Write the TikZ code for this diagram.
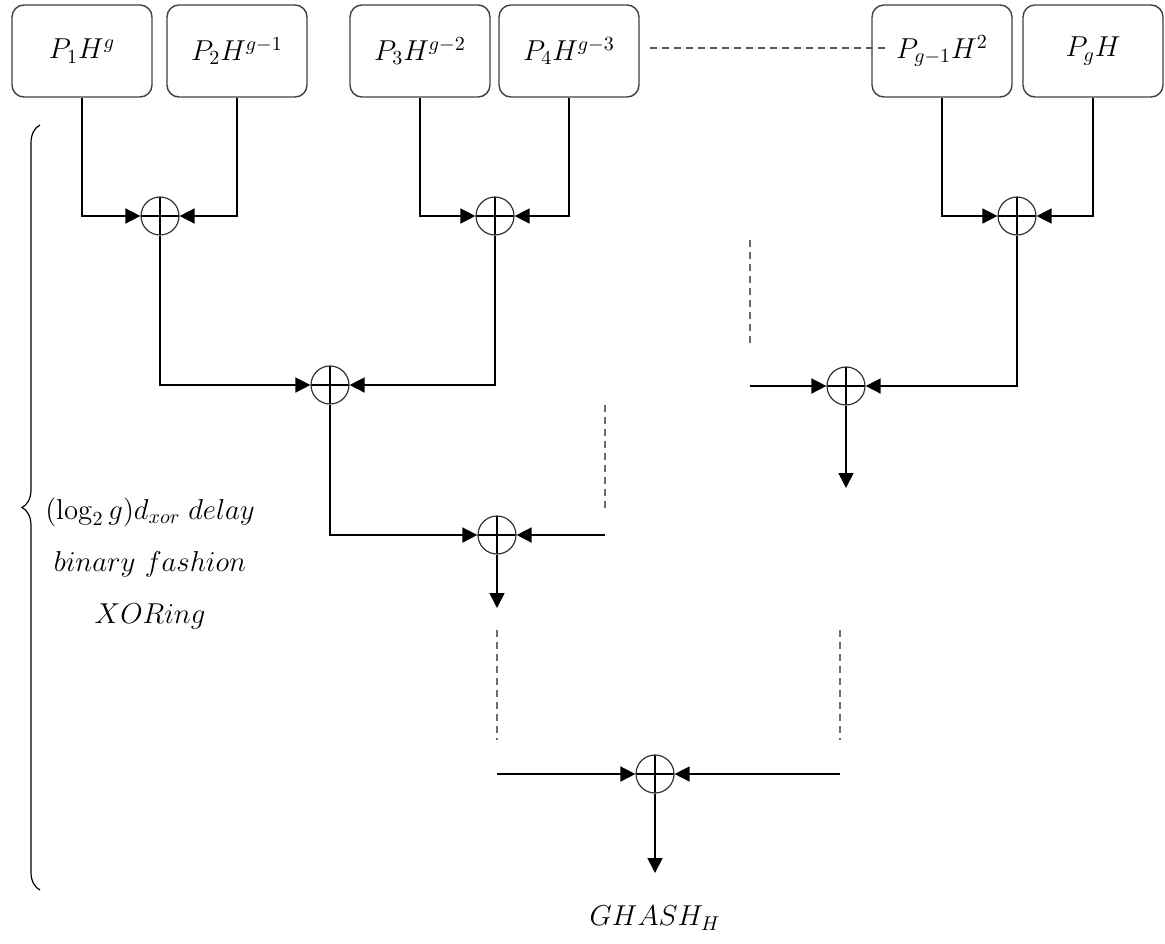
\documentclass[tikz,border=0pt]{standalone}
\usetikzlibrary{arrows.meta,decorations.pathreplacing}
\tikzset{
  pbox/.style={draw=black!75,rounded corners=6pt,minimum width=70pt,minimum height=46pt,font=\Large,line width=0.7pt},
  xorc/.style={draw=black!80,circle,minimum size=19pt,inner sep=0pt,line width=0.6pt,
    path picture={\draw[black,line width=0.7pt] (path picture bounding box.north)--(path picture bounding box.south)
      (path picture bounding box.west)--(path picture bounding box.east);}},
  wire/.style={line width=0.8pt,-{Triangle[length=7.5pt,width=7.5pt]}},
  gap/.style={gray!85!black,line width=1.4pt,dash pattern=on 3.5pt off 2.5pt},
}
\begin{document}
\begin{tikzpicture}[x=0.5pt,y=-0.5pt]
\useasboundingbox (0,0) rectangle (1165,943);
% input products
\node[pbox] (p1) at (82,51) {$P_1H^g$};
\node[pbox] (p2) at (237,51) {$P_2H^{g-1}$};
\node[pbox] (p3) at (420,51) {$P_3H^{g-2}$};
\node[pbox] (p4) at (569,51) {$P_4H^{g-3}$};
\node[pbox] (p5) at (942,51) {$P_{g-1}H^2$};
\node[pbox] (p6) at (1093,51) {$P_gH$};
\draw[gray!70!black,line width=0.8pt,dash pattern=on 3.5pt off 2.5pt] (650,48) -- (890,48);
% xor tree
\node[xorc] (x1) at (160,216) {};
\node[xorc] (x2) at (495,216) {};
\node[xorc] (x3) at (1017,216) {};
\node[xorc] (x4) at (330,385) {};
\node[xorc] (x5) at (846,386) {};
\node[xorc] (x6) at (497,535) {};
\node[xorc] (x7) at (655,774) {};
\coordinate (c5) at (750,386);
\coordinate (c6) at (605,535);
\coordinate (c7l) at (497,774);
\coordinate (c7r) at (840,774);
\coordinate (o5) at (846,488);
\coordinate (o6) at (497,608);
\coordinate (o7) at (655,873);
\draw[wire] (p1) |- (x1);
\draw[wire] (p2) |- (x1);
\draw[wire] (p3) |- (x2);
\draw[wire] (p4) |- (x2);
\draw[wire] (p5) |- (x3);
\draw[wire] (p6) |- (x3);
\draw[wire] (x1) |- (x4);
\draw[wire] (x2) |- (x4);
\draw[wire] (c5) -- (x5);
\draw[wire] (x3) |- (x5);
\draw[wire] (x5) -- (o5);
\draw[wire] (x4) |- (x6);
\draw[wire] (c6) -- (x6);
\draw[wire] (x6) -- (o6);
\draw[wire] (c7l) -- (x7);
\draw[wire] (c7r) -- (x7);
\draw[wire] (x7) -- (o7);
% omitted stages
\draw[gap] (750,240) -- (750,348);
\draw[gap] (605,405) -- (605,512);
\draw[gap] (497,630) -- (497,740);
\draw[gap] (840,630) -- (840,740);
\node[font=\Large] (out) at (655,918) {$GHASH_H$};
% delay brace
\draw[line width=0.6pt,decorate,decoration={brace,amplitude=9pt}] (40,890) -- (40,125);
\node[font=\Large,align=center] (delay) at (150,563) {$(\log_2g)d_{xor}\;delay$\\[8pt]$binary\ fashion$\\[8pt]$XORing$};
\end{tikzpicture}
\end{document}
